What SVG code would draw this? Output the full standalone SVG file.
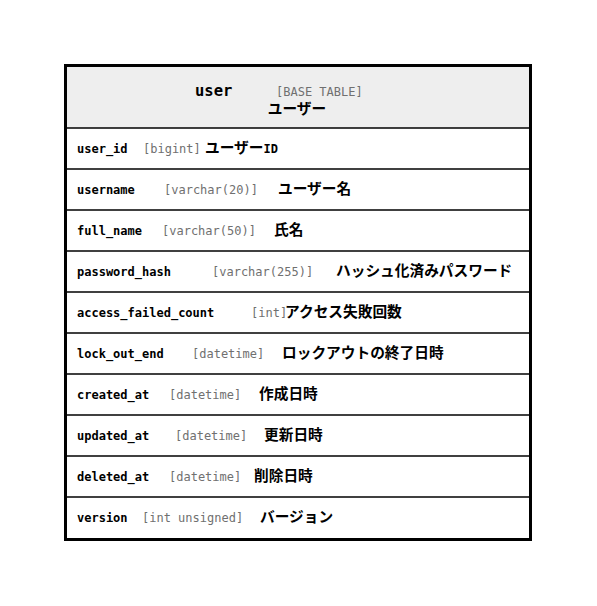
<svg xmlns="http://www.w3.org/2000/svg" width="597" height="606" viewBox="0 0 597 606">
<style>
.name{font-family:"DejaVu Sans Mono","Liberation Mono",monospace;font-size:12px;font-weight:bold;fill:#000}
.type{font-family:"DejaVu Sans Mono","Liberation Mono",monospace;font-size:12px;fill:#707070}
.cmt{font-family:"Noto Sans CJK JP","DejaVu Sans Mono",sans-serif;font-size:14.7px;font-weight:bold;fill:#000}
.title{font-family:"DejaVu Sans Mono","Liberation Mono",monospace;font-size:15.5px;font-weight:bold;fill:#000}
.sep{stroke:#000;stroke-width:1.5}
</style>
<rect width="597" height="606" fill="#fff"/>
<g id="user">
<rect x="65.5" y="65.5" width="465" height="474" fill="#fff"/>
<rect x="65.5" y="65.5" width="465" height="62.5" fill="#eeeeee"/>
<text class="title" x="195" y="96">user</text>
<text class="type" x="276" y="96">[BASE TABLE]</text>
<text class="cmt" x="297" y="114" text-anchor="middle">ユーザー</text>
<g>
<line class="sep" x1="64" y1="128" x2="532" y2="128"/>
<line class="sep" x1="64" y1="169" x2="532" y2="169"/>
<line class="sep" x1="64" y1="210" x2="532" y2="210"/>
<line class="sep" x1="64" y1="251" x2="532" y2="251"/>
<line class="sep" x1="64" y1="292" x2="532" y2="292"/>
<line class="sep" x1="64" y1="333" x2="532" y2="333"/>
<line class="sep" x1="64" y1="374" x2="532" y2="374"/>
<line class="sep" x1="64" y1="415" x2="532" y2="415"/>
<line class="sep" x1="64" y1="456" x2="532" y2="456"/>
<line class="sep" x1="64" y1="497" x2="532" y2="497"/>
</g>
<text class="name" x="77" y="153">user_id</text><text class="type" x="143" y="153">[bigint]</text><text class="cmt" x="205" y="153">ユーザー<tspan style="font-family:'DejaVu Sans Mono',monospace;font-size:12px">ID</tspan></text>
<text class="name" x="77" y="194">username</text><text class="type" x="164" y="194">[varchar(20)]</text><text class="cmt" x="278" y="194">ユーザー名</text>
<text class="name" x="77" y="235">full_name</text><text class="type" x="162" y="235">[varchar(50)]</text><text class="cmt" x="274" y="235">氏名</text>
<text class="name" x="77" y="276">password_hash</text><text class="type" x="212" y="276">[varchar(255)]</text><text class="cmt" x="336" y="276">ハッシュ化済みパスワード</text>
<text class="name" x="77" y="317">access_failed_count</text><text class="type" x="251" y="317">[int]</text><text class="cmt" x="285" y="317">アクセス失敗回数</text>
<text class="name" x="77" y="358">lock_out_end</text><text class="type" x="192" y="358">[datetime]</text><text class="cmt" x="282" y="358">ロックアウトの終了日時</text>
<text class="name" x="77" y="399">created_at</text><text class="type" x="169" y="399">[datetime]</text><text class="cmt" x="259" y="399">作成日時</text>
<text class="name" x="77" y="440">updated_at</text><text class="type" x="175" y="440">[datetime]</text><text class="cmt" x="264" y="440">更新日時</text>
<text class="name" x="77" y="481">deleted_at</text><text class="type" x="169" y="481">[datetime]</text><text class="cmt" x="254" y="481">削除日時</text>
<text class="name" x="77" y="522">version</text><text class="type" x="142" y="522">[int unsigned]</text><text class="cmt" x="260" y="522">バージョン</text>
<rect x="65.5" y="65.5" width="465" height="474" fill="none" stroke="#000" stroke-width="3"/>
</g>
<g id="connectors"/>
</svg>
